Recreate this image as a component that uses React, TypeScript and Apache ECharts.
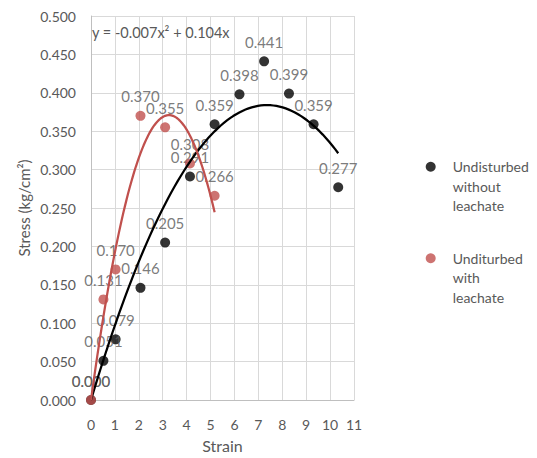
import React, { useEffect, useRef } from "react";
import * as echarts from "echarts";

const seriesNames = ["Undisturbed without leachate", "Unditurbed with leachate"];
const legendLabels = ["\n\nUndisturbed\nwithout\nleachate", "\n\nUnditurbed\nwith\nleachate"];

const strainNoLeachate = [0, 0.52, 1.03, 2.07, 3.1, 4.14, 5.17, 6.21, 7.24, 8.28, 9.31, 10.34];
const stressNoLeachate = [0, 0.051, 0.079, 0.146, 0.205, 0.291, 0.359, 0.398, 0.441, 0.399, 0.359, 0.277];

const strainLeachate = [0, 0.52, 1.03, 2.07, 3.1, 4.14, 5.17];
const stressLeachate = [0, 0.131, 0.17, 0.37, 0.355, 0.308, 0.266];

const equationText = "y = -0.007x² + 0.104x";

const FONT = "Lato";
const GRAY = "#595959";
const BLACK = "#000000";
const RED = "#C0504D";

// Least-squares polynomial (order 2, intercept 0) trendline, as Excel computes it
function fitQuadThroughOrigin(xs: number[], ys: number[]) {
  let s2 = 0, s3 = 0, s4 = 0, s1y = 0, s2y = 0;
  for (let i = 0; i < xs.length; i++) {
    const x = xs[i], y = ys[i];
    s2 += x * x;
    s3 += x * x * x;
    s4 += x * x * x * x;
    s1y += x * y;
    s2y += x * x * y;
  }
  const det = s4 * s2 - s3 * s3;
  const a = (s2y * s2 - s3 * s1y) / det;
  const b = (s4 * s1y - s3 * s2y) / det;
  return [a, b];
}

function trendPoints(xs: number[], ys: number[]) {
  const [a, b] = fitQuadThroughOrigin(xs, ys);
  const xMax = Math.max(...xs);
  const n = 80;
  const pts: number[][] = [];
  for (let i = 0; i <= n; i++) {
    const x = (xMax * i) / n;
    pts.push([x, a * x * x + b * x]);
  }
  return pts;
}

export default function App() {
  const ref = useRef<HTMLDivElement>(null);

  useEffect(() => {
    document.body.style.margin = "0";
    if (!ref.current) return;
    const chart = echarts.init(ref.current, undefined, { renderer: "svg" });

    const labelCfg = {
      show: true,
      position: "top",
      distance: 7,
      color: GRAY,
      fontFamily: FONT,
      fontSize: 15,
      formatter: (p: any) => Number(p.value[1]).toFixed(3),
    };

    const legendCommon = {
      orient: "vertical",
      left: 420.7,
      itemWidth: 10,
      itemHeight: 10,
      icon: "circle",
      textStyle: {
        color: GRAY,
        fontFamily: FONT,
        fontSize: 14,
        lineHeight: 19.5,
        padding: [0, 0, 0, 12],
      },
    };

    const option: any = {
      animation: false,
      backgroundColor: "#ffffff",
      textStyle: { fontFamily: FONT },
      grid: { left: 91, right: 183, top: 16, bottom: 55, containLabel: false },
      xAxis: {
        type: "value",
        min: 0,
        max: 11,
        interval: 1,
        name: "Strain",
        nameLocation: "middle",
        nameGap: 37,
        nameTextStyle: { color: GRAY, fontFamily: FONT, fontSize: 16 },
        axisLine: { show: true, onZero: false, lineStyle: { color: "#bfbfbf", width: 1 } },
        axisTick: { show: false },
        axisLabel: { color: GRAY, fontFamily: FONT, fontSize: 14, margin: 17 },
        splitLine: { show: true, lineStyle: { color: "#d9d9d9", width: 1 } },
      },
      yAxis: {
        type: "value",
        min: 0,
        max: 0.5,
        interval: 0.05,
        name: "Stress (kg/cm²)",
        nameLocation: "middle",
        nameRotate: 90,
        nameGap: 60,
        nameTextStyle: { color: GRAY, fontFamily: FONT, fontSize: 15 },
        axisLine: { show: true, lineStyle: { color: "#bfbfbf", width: 1 } },
        axisTick: { show: false },
        axisLabel: {
          color: GRAY,
          fontFamily: FONT,
          fontSize: 14,
          margin: 15,
          formatter: (v: number) => v.toFixed(3),
        },
        splitLine: { show: true, lineStyle: { color: "#d9d9d9", width: 1 } },
      },
      legend: [
        {
          ...legendCommon,
          data: [seriesNames[0]],
          top: 113,
          formatter: () => legendLabels[0],
        },
        {
          ...legendCommon,
          data: [seriesNames[1]],
          top: 204.5,
          formatter: () => legendLabels[1],
        },
      ],
      graphic: [
        {
          type: "text",
          left: 92,
          top: 25,
          style: { text: equationText, fill: GRAY, fontFamily: FONT, fontSize: 14.5 },
          z: 100,
        },
      ],
      series: [
        {
          name: seriesNames[0],
          type: "scatter",
          symbol: "circle",
          symbolSize: 10,
          itemStyle: { color: BLACK },
          data: strainNoLeachate.map((x, i) => [x, stressNoLeachate[i]]),
          label: labelCfg,
          z: 3,
        },
        {
          name: seriesNames[1],
          type: "scatter",
          symbol: "circle",
          symbolSize: 10,
          itemStyle: { color: RED },
          data: strainLeachate.map((x, i) => [x, stressLeachate[i]]),
          label: labelCfg,
          z: 4,
        },
        {
          name: "Trend without leachate",
          type: "line",
          showSymbol: false,
          symbol: "none",
          smooth: false,
          lineStyle: { color: BLACK, width: 2.25 },
          data: trendPoints(strainNoLeachate, stressNoLeachate),
          z: 5,
          silent: true,
        },
        {
          name: "Trend with leachate",
          type: "line",
          showSymbol: false,
          symbol: "none",
          smooth: false,
          lineStyle: { color: RED, width: 2.25 },
          data: trendPoints(strainLeachate, stressLeachate),
          z: 5,
          silent: true,
        },
      ],
    };

    chart.setOption(option);
    return () => chart.dispose();
  }, []);

  return <div ref={ref} style={{ width: 537, height: 458 }} />;
}
